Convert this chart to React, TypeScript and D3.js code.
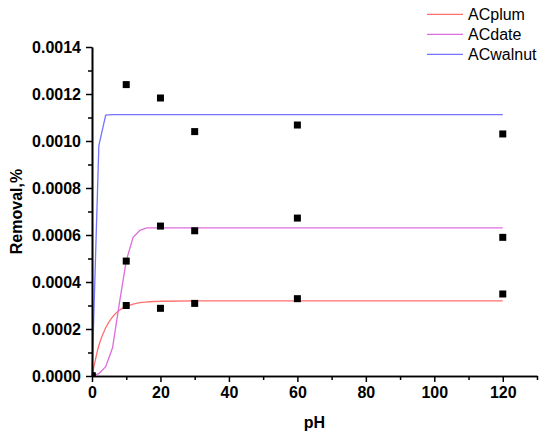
import { useEffect, useRef } from "react";
import * as d3 from "d3";

// measured sample times (pH axis as labelled in the figure)
const sampleX = [0, 10, 20, 30, 60, 120];
const plumPoints = [0, 0.0003, 0.000288, 0.000309, 0.000329, 0.000349];
const datePoints = [0, 0.000489, 0.000638, 0.000618, 0.000672, 0.00059];
const walnutPoints = [0, 0.00124, 0.001183, 0.00104, 0.001068, 0.00103];

// fitted curves
const fitX = [0, 2, 4, 6, 8, 10, 12, 14, 16, 18, 20, 30, 40, 60, 80, 100, 120];
const plumFit = [
  0, 0.00013, 0.000205, 0.000252, 0.00028, 0.000296, 0.000306, 0.000312,
  0.000315, 0.000317, 0.000318, 0.00032, 0.00032, 0.00032, 0.00032, 0.00032,
  0.00032,
];
const dateFit = [
  0, 0.00001, 0.00004, 0.00012, 0.00031, 0.00049, 0.00059, 0.00062, 0.00063,
  0.00063, 0.00063, 0.00063, 0.00063, 0.00063, 0.00063, 0.00063, 0.00063,
];
const walnutFit = [
  0, 0.00098, 0.00111, 0.001112, 0.001112, 0.001112, 0.001112, 0.001112,
  0.001112, 0.001112, 0.001112, 0.001112, 0.001112, 0.001112, 0.001112,
  0.001112, 0.001112,
];

const xMajor = [0, 20, 40, 60, 80, 100, 120];
const xMinor = [10, 30, 50, 70, 90, 110, 130];
const yMajor = [0, 0.0002, 0.0004, 0.0006, 0.0008, 0.001, 0.0012, 0.0014];
const yMinor = [0.0001, 0.0003, 0.0005, 0.0007, 0.0009, 0.0011, 0.0013];

const series = [
  { name: "ACplum", color: "#ff6f6f", fit: plumFit, points: plumPoints, smooth: true },
  { name: "ACdate", color: "#dd6ddd", fit: dateFit, points: datePoints, smooth: false },
  { name: "ACwalnut", color: "#7373ff", fit: walnutFit, points: walnutPoints, smooth: false },
];

const FONT = "'Liberation Sans', Arial, sans-serif";

export default function App() {
  const svgRef = useRef<SVGSVGElement>(null);

  useEffect(() => {
    if (!svgRef.current) return;
    const svg = d3.select(svgRef.current);
    svg.selectAll("*").remove();

    const x = d3.scaleLinear().domain([0, 130]).range([92, 537]);
    const y = d3.scaleLinear().domain([0, 0.0014]).range([376, 47]);

    // markers are clipped to the plot frame, as in the original
    svg
      .append("defs")
      .append("clipPath")
      .attr("id", "plot-clip")
      .append("rect")
      .attr("x", x(0))
      .attr("y", 0)
      .attr("width", x(130) - x(0) + 10)
      .attr("height", y(0));

    // fitted lines
    series.forEach((s) => {
      const line = d3
        .line<number>()
        .x((_, i) => x(fitX[i]))
        .y((d) => y(d))
        .curve(s.smooth ? d3.curveMonotoneX : d3.curveLinear);
      svg
        .append("path")
        .datum(s.fit)
        .attr("fill", "none")
        .attr("stroke", s.color)
        .attr("stroke-width", 1.3)
        .attr("d", line);
    });

    // measured points
    const sz = 7;
    series.forEach((s) => {
      svg
        .append("g")
        .attr("clip-path", "url(#plot-clip)")
        .selectAll("rect")
        .data(s.points)
        .join("rect")
        .attr("x", (_, i) => x(sampleX[i]) - sz / 2)
        .attr("y", (d) => y(d) - sz / 2)
        .attr("width", sz)
        .attr("height", sz)
        .attr("fill", "#000");
    });

    // axes
    const xAxis = svg.append("g").attr("transform", `translate(0,${y(0)})`);
    xAxis.call(
      d3.axisBottom(x).tickValues(xMajor).tickSize(6).tickSizeOuter(0).tickFormat(d3.format("d"))
    );
    const xMin = svg.append("g").attr("transform", `translate(0,${y(0)})`);
    xMin.call(d3.axisBottom(x).tickValues(xMinor).tickSize(4).tickSizeOuter(0).tickFormat(() => ""));

    const yAxis = svg.append("g").attr("transform", `translate(${x(0)},0)`);
    yAxis.call(
      d3.axisLeft(y).tickValues(yMajor).tickSize(6).tickSizeOuter(0).tickFormat(d3.format(".4f"))
    );
    const yMin = svg.append("g").attr("transform", `translate(${x(0)},0)`);
    yMin.call(d3.axisLeft(y).tickValues(yMinor).tickSize(4).tickSizeOuter(0).tickFormat(() => ""));

    [xAxis, xMin, yAxis, yMin].forEach((g) => {
      g.selectAll("path.domain").attr("stroke", "#000").attr("stroke-width", 1.6);
      g.selectAll(".tick line").attr("stroke", "#000").attr("stroke-width", 1.5);
    });
    xAxis
      .selectAll(".tick text")
      .attr("y", 11)
      .attr("dy", "0.71em")
      .attr("font-family", FONT)
      .attr("font-size", 16)
      .attr("font-weight", "bold")
      .attr("fill", "#000");
    yAxis
      .selectAll(".tick text")
      .attr("x", -11)
      .attr("font-family", FONT)
      .attr("font-size", 16)
      .attr("font-weight", "bold")
      .attr("fill", "#000");

    // axis titles
    svg
      .append("text")
      .attr("x", (x(0) + x(130)) / 2)
      .attr("y", 428)
      .attr("text-anchor", "middle")
      .attr("font-family", FONT)
      .attr("font-size", 16)
      .attr("font-weight", "bold")
      .text("pH");
    svg
      .append("text")
      .attr("transform", `translate(22,${(y(0) + y(0.0014)) / 2}) rotate(-90)`)
      .attr("text-anchor", "middle")
      .attr("font-family", FONT)
      .attr("font-size", 16)
      .attr("font-weight", "bold")
      .text("Removal,%");

    // legend
    series.forEach((s, i) => {
      const ly = 14.3 + i * 20;
      svg
        .append("line")
        .attr("x1", 427)
        .attr("x2", 463)
        .attr("y1", ly)
        .attr("y2", ly)
        .attr("stroke", s.color)
        .attr("stroke-width", 1.3);
      svg
        .append("text")
        .attr("x", 468)
        .attr("y", ly + 5.7)
        .attr("font-family", FONT)
        .attr("font-size", 16)
        .attr("fill", "#000")
        .text(s.name);
    });
  }, []);

  return (
    <svg
      ref={svgRef}
      width={550}
      height={443}
      style={{ position: "absolute", left: 0, top: 0, background: "#fff" }}
    />
  );
}
